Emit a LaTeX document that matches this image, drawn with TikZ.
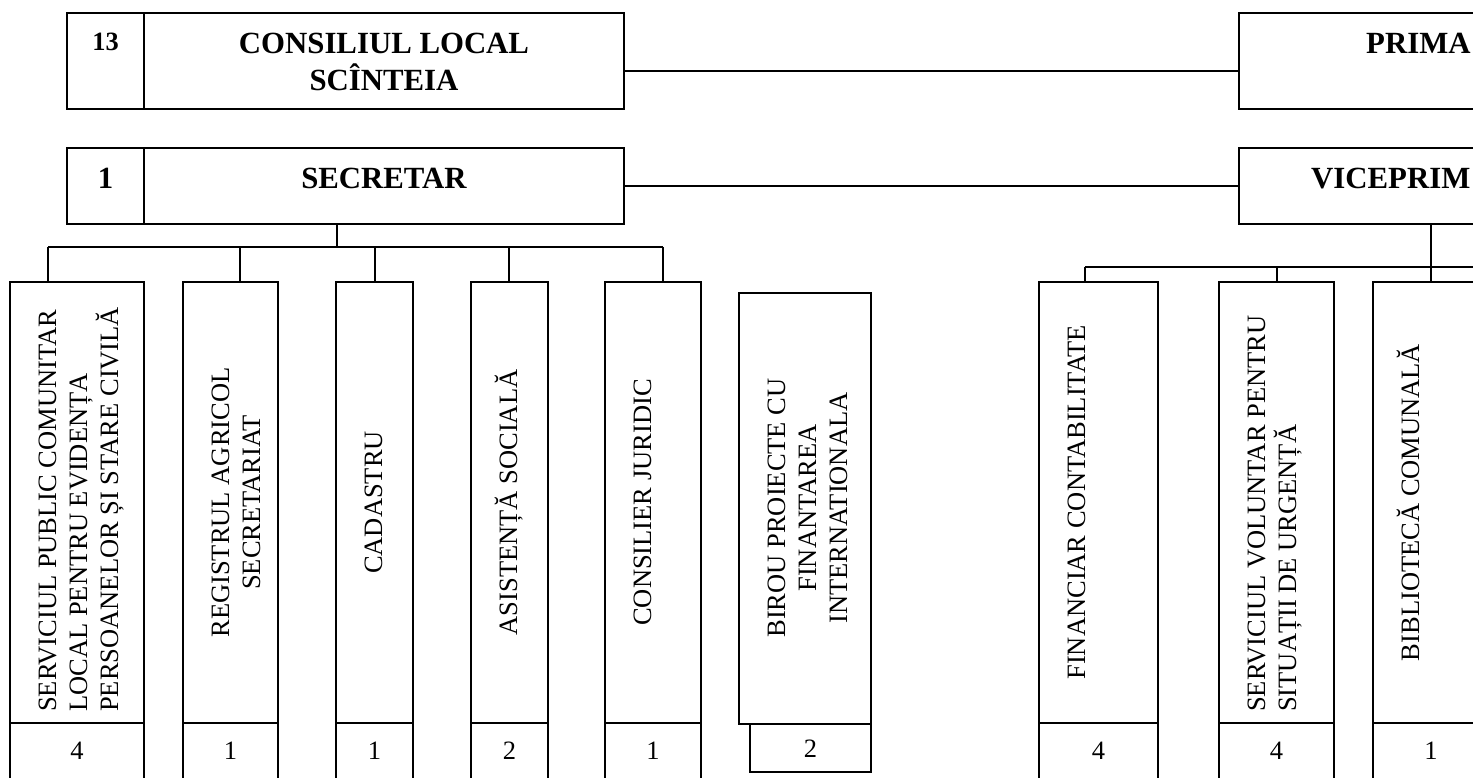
\documentclass[tikz,border=0pt]{standalone}
\usepackage{fontspec}
\setmainfont{Liberation Serif}
\usetikzlibrary{positioning}

\newcommand{\capstrut}{\rule{0pt}{30pt}}

\begin{document}
\begin{tikzpicture}[x=1pt,y=-1pt]
       \tikzstyle{cell}=[draw,line width=1.5pt,inner sep=0pt,outer sep=0pt]
       \tikzstyle{headcell}=[cell,line width=2pt]
       \tikzstyle{title}=[inner sep=0pt,align=center,font=\fontsize{30.8}{37}\selectfont\bfseries]
       \tikzstyle{vtext}=[inner sep=0pt,rotate=90,font=\fontsize{26.5}{31}\selectfont]
       \tikzstyle{count}=[font=\fontsize{26.5}{31}\selectfont,text height=18pt,text depth=6pt]
       \tikzstyle{link}=[line width=1.5pt]

       \useasboundingbox (0,0) rectangle (1473,778);
       \clip (0,0) rectangle (1473,778);

       % conducere
       \node[headcell,minimum width=77pt,minimum height=96pt] (n13) at (105.5,61) {};
       \node[headcell,minimum width=480pt,minimum height=96pt,right=0pt of n13] (cons) {};
       \node[headcell,minimum width=380pt,minimum height=96pt] (prim) at (1429,61) {};
       \node[cell,minimum width=77pt,minimum height=76pt] (n1) at (105.5,186) {};
       \node[cell,minimum width=480pt,minimum height=76pt,right=0pt of n1] (sec) {};
       \node[cell,minimum width=380pt,minimum height=76pt] (vice) at (1429,186) {};

       \node[title,anchor=north] (t13) at (105.5,20) {\capstrut\fontsize{26.4}{30}\selectfont 13};
       \node[title,anchor=north] (tcons) at (384,23) {\capstrut CONSILIUL LOCAL\\SCÎNTEIA};
       \node[title,anchor=north west] (tprim) at (1366,23) {\capstrut PRIMA};
       \node[title,anchor=north] (t1) at (105.5,158) {\capstrut 1};
       \node[title,anchor=north] (tsec) at (384,158) {\capstrut SECRETAR};
       \node[title,anchor=north west] (tvice) at (1311,158) {\capstrut VICEPRIM};

       \draw[link,line width=2pt] ([yshift=-10pt]cons.east) -- ([yshift=-10pt]prim.west);
       \draw[link] (sec.east) -- (vice.west);

       % compartimente
       \node[cell,minimum width=134pt,minimum height=441pt] (c1) at (77,502.5) {};
       \node[cell,minimum width=95pt,minimum height=441pt] (c2) at (230.5,502.5) {};
       \node[cell,minimum width=77pt,minimum height=441pt] (c3) at (374.5,502.5) {};
       \node[cell,minimum width=77pt,minimum height=441pt] (c4) at (509.5,502.5) {};
       \node[cell,minimum width=96pt,minimum height=441pt] (c5) at (653,502.5) {};
       \node[cell,minimum width=132pt,minimum height=431pt] (c6) at (805,508.5) {};
       \node[cell,minimum width=119pt,minimum height=441pt] (c7) at (1098.5,502.5) {};
       \node[cell,minimum width=115pt,minimum height=441pt] (c8) at (1276.5,502.5) {};
       \node[cell,minimum width=116pt,minimum height=441pt] (c9) at (1431,502.5) {};

       \node[vtext,anchor=north west,align=left] (l1) at (26,712)
              {\capstrut SERVICIUL PUBLIC COMUNITAR\\LOCAL PENTRU EVIDENȚA\\PERSOANELOR ȘI STARE CIVILĂ};
       \node[vtext,anchor=north,align=center] (l2) at (199,502.5) {\capstrut REGISTRUL AGRICOL\\SECRETARIAT};
       \node[vtext,anchor=north] (l3) at (352,502.5) {\capstrut CADASTRU};
       \node[vtext,anchor=north] (l4) at (487,502.5) {\capstrut ASISTENȚĂ SOCIALĂ};
       \node[vtext,anchor=north] (l5) at (621,502.5) {\capstrut CONSILIER JURIDIC};
       \node[vtext,anchor=north,align=center] (l6) at (755,508)
              {\capstrut BIROU PROIECTE CU\\FINANTAREA\\INTERNATIONALA};
       \node[vtext,anchor=north] (l7) at (1055,502.5) {\capstrut FINANCIAR CONTABILITATE};
       \node[vtext,anchor=north west,align=left] (l8) at (1235,712)
              {\capstrut SERVICIUL VOLUNTAR PENTRU\\SITUAȚII DE URGENȚĂ};
       \node[vtext,anchor=north] (l9) at (1389,502.5) {\capstrut BIBLIOTECĂ COMUNALĂ};

       % numar de posturi
       \node[cell,count,minimum width=134pt,minimum height=60pt,below=0pt of c1] (k1) {4};
       \node[cell,count,minimum width=95pt,minimum height=60pt,below=0pt of c2] (k2) {1};
       \node[cell,count,minimum width=77pt,minimum height=60pt,below=0pt of c3] (k3) {1};
       \node[cell,count,minimum width=77pt,minimum height=60pt,below=0pt of c4] (k4) {2};
       \node[cell,count,minimum width=96pt,minimum height=60pt,below=0pt of c5] (k5) {1};
       \node[cell,count,text depth=0pt,minimum width=121pt,minimum height=48pt,
             below=0pt of c6.south east,anchor=north east] (k6) {2};
       \node[cell,count,minimum width=119pt,minimum height=60pt,below=0pt of c7] (k7) {4};
       \node[cell,count,minimum width=115pt,minimum height=60pt,below=0pt of c8] (k8) {4};
       \node[cell,count,minimum width=116pt,minimum height=60pt,below=0pt of c9] (k9) {1};

       % legaturi
       \coordinate (sbus) at (337,247);
       \coordinate (s1) at (48,247);
       \coordinate (s2) at (240,247);
       \coordinate (s3) at (375,247);
       \coordinate (s4) at (509,247);
       \coordinate (s5) at (663,247);
       \draw[link] (sec.south -| sbus) -- (sbus);
       \draw[link] (s1) -- (s5);
       \foreach \i in {1,...,5}
              \draw[link] (s\i) -- (s\i |- c\i.north);

       \coordinate (v7) at (1085,267);
       \coordinate (v8) at (1277,267);
       \coordinate (v9) at (1431,267);
       \coordinate (vend) at (1490,267);
       \draw[link] (v7) -- (vend);
       \draw[link] (vice.south -| v9) -- (v9 |- c9.north);
       \foreach \i in {7,8}
              \draw[link] (v\i) -- (v\i |- c\i.north);
\end{tikzpicture}
\end{document}
